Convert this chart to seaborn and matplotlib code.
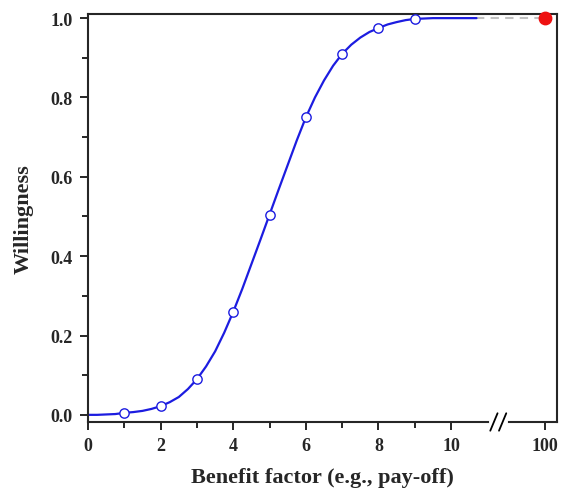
import numpy as np
import pandas as pd
import seaborn as sns
import matplotlib.pyplot as plt

# Datos (curva y puntos)
curve_x = [0, 0.25, 0.5, 0.75, 1, 1.25, 1.5, 1.75, 2, 2.25, 2.5, 2.75, 3, 3.25, 3.5, 3.75,
           4, 4.25, 4.5, 4.75, 5, 5.25, 5.5, 5.75, 6, 6.25, 6.5, 6.75, 7, 7.25, 7.5, 7.75,
           8, 8.25, 8.5, 8.75, 9, 9.25, 9.5, 10, 10.7]
curve_y = [0.0, 0.0, 0.001, 0.002, 0.005, 0.007, 0.010, 0.015, 0.022, 0.032, 0.045, 0.065,
           0.090, 0.122, 0.160, 0.207, 0.260, 0.318, 0.380, 0.442, 0.505, 0.568, 0.630, 0.692,
           0.750, 0.800, 0.843, 0.880, 0.910, 0.933, 0.951, 0.965, 0.975, 0.984, 0.990, 0.995,
           0.998, 0.999, 1.0, 1.0, 1.0]
point_x = [1, 2, 3, 4, 5, 6, 7, 8, 9]
point_y = [0.005, 0.022, 0.09, 0.26, 0.505, 0.75, 0.91, 0.975, 0.998]
far_x = 100
far_y = 1.0

# posición del valor 100 en el eje (eje roto)
far_pos = 12.59
break_pos = 11.3

sns.set_style("ticks")
plt.rcParams['font.family'] = ['Liberation Serif', 'DejaVu Serif']
plt.rcParams['font.weight'] = 'bold'

fig = plt.figure(figsize=(5.61, 4.89), dpi=100)
ax = fig.add_axes([0.157, 0.135, 0.836, 0.834])

curve = pd.DataFrame({'x': curve_x, 'y': curve_y})
points = pd.DataFrame({'x': point_x, 'y': point_y})

# línea discontinua gris hasta el valor lejano
ax.plot([curve_x[-1], far_pos], [far_y, far_y], color='#c0c0c0', lw=1.5, ls=(0, (4, 3)), zorder=1)
sns.lineplot(data=curve, x='x', y='y', color='#1c1ce0', lw=1.6, ax=ax, zorder=2)
sns.scatterplot(data=points, x='x', y='y', marker='o', s=45, facecolor='white',
                edgecolor='#1c1ce0', linewidth=1.0, ax=ax, zorder=3)
ax.scatter([far_pos], [far_y], s=80, color='#ee1111', zorder=4, clip_on=False)

ax.set_xlim(0, 12.92)
ax.set_ylim(-0.018, 1.01)
ax.set_xticks([0, 2, 4, 6, 8, 10, far_pos])
ax.set_xticklabels(['0', '2', '4', '6', '8', '10', str(far_x)])
ax.set_xticks([1, 3, 5, 7, 9], minor=True)
ax.set_yticks(np.round(np.arange(0, 1.01, 0.2), 1))
ax.set_yticklabels(['0.0', '0.2', '0.4', '0.6', '0.8', '1.0'])
ax.set_yticks(np.arange(0.1, 1.0, 0.2), minor=True)
ax.tick_params(axis='both', which='major', direction='out', length=6, width=1.4, labelsize=13, pad=5)
ax.tick_params(axis='both', which='minor', direction='out', length=4, width=1.4)
for s in ax.spines.values():
    s.set_linewidth(1.5)
    s.set_visible(True)

# marcas de eje roto
ax.plot([break_pos - 0.2, break_pos + 0.2], [-0.018, -0.018], color='white', lw=3, clip_on=False, zorder=5)
for dx in (-0.12, 0.12):
    ax.plot([break_pos + dx - 0.1, break_pos + dx + 0.1], [-0.04, 0.004],
            color='black', lw=1.3, clip_on=False, zorder=6)

ax.set_xlabel('Benefit factor (e.g., pay-off)', fontsize=16, fontweight='bold', labelpad=9)
ax.set_ylabel('Willingness', fontsize=16, fontweight='bold', labelpad=12)

plt.savefig('out.png', dpi=100)
